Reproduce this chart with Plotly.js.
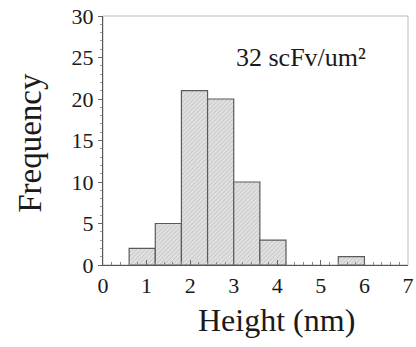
<!DOCTYPE html>
<html>
<head>
<meta charset="utf-8">
<script src="https://cdn.plot.ly/plotly-3.0.1.min.js"></script>
<style>html,body{margin:0;padding:0;background:#fff;}#chart{width:416px;height:347px;}</style>
</head>
<body>
<div id="chart"></div>
<script>
// Histogram of heights (nm)
const binStarts = [0.6, 1.2, 1.8, 2.4, 3.0, 3.6, 5.4];
const binWidth = 0.6;
const counts = [2, 5, 21, 20, 10, 3, 1];
const xTickVals = [0, 1, 2, 3, 4, 5, 6, 7];
const yTickVals = [0, 5, 10, 15, 20, 25, 30];
const labelText = '32 scFv/um²';
const xTitle = 'Height (nm)';
const yTitle = 'Frequency';

const serif = 'Liberation Serif, Times New Roman, serif';

const trace = {
  type: 'bar',
  x: binStarts,
  y: counts,
  width: binStarts.map(() => binWidth),
  offset: 0,
  marker: {
    color: '#dcdcdc',
    line: {color: '#5a5a5a', width: 1.2},
    pattern: {shape: '/', fgcolor: '#b0b0b0', bgcolor: '#e0e0e0', size: 3, solidity: 0.2}
  },
  hoverinfo: 'skip'
};

const layout = {
  width: 416, height: 347,
  margin: {l: 103, r: 8, t: 16, b: 82},
  paper_bgcolor: '#ffffff',
  plot_bgcolor: '#ffffff',
  showlegend: false,
  bargap: 0,
  font: {family: serif, color: '#1a1a1a'},
  xaxis: {
    range: [0, 7],
    tickvals: xTickVals,
    ticks: 'inside', ticklen: 5, tickcolor: '#666', tickwidth: 1,
    minor: {dtick: 0.2, ticks: 'inside', ticklen: 3, tickcolor: '#888'},
    showline: true, linecolor: '#555', linewidth: 1.2,
    showgrid: false, zeroline: false,
    tickfont: {family: serif, size: 22, color: '#1a1a1a'}
  },
  yaxis: {
    range: [0, 30],
    tickvals: yTickVals,
    ticks: 'outside', ticklen: 4, tickcolor: '#666', tickwidth: 1,
    minor: {dtick: 1, ticks: 'outside', ticklen: 2, tickcolor: '#999'},
    showline: true, linecolor: '#555', linewidth: 1.2,
    showgrid: false, zeroline: false,
    tickfont: {family: serif, size: 22, color: '#1a1a1a'}
  },
  shapes: [{
    type: 'rect', xref: 'paper', yref: 'paper', x0: 0, x1: 1, y0: 0, y1: 1,
    line: {color: '#bbbbbb', width: 1}, layer: 'below'
  }],
  annotations: [{
    text: labelText, xref: 'x', yref: 'y', x: 4.55, y: 25.0,
    showarrow: false, xanchor: 'center', yanchor: 'middle',
    font: {family: serif, size: 26, color: '#1a1a1a'}
  }, {
    text: xTitle, xref: 'paper', yref: 'paper', x: 0.57, y: -0.22,
    showarrow: false, xanchor: 'center', yanchor: 'middle',
    font: {family: serif, size: 32, color: '#1a1a1a'}
  }, {
    text: yTitle, xref: 'paper', yref: 'paper', x: -0.24, y: 0.49,
    textangle: -90, showarrow: false, xanchor: 'center', yanchor: 'middle',
    font: {family: serif, size: 33, color: '#1a1a1a'}
  }]
};

Plotly.newPlot('chart', [trace], layout, {displayModeBar: false, staticPlot: true});
</script>
</body>
</html>
